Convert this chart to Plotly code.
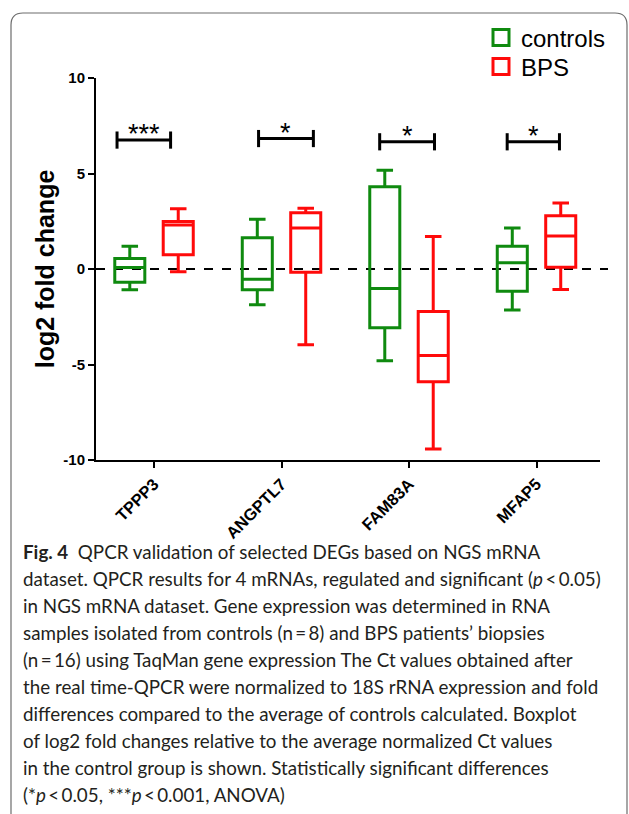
import plotly.graph_objects as go

# ---------------- data ----------------
genes = ["TPPP3", "ANGPTL7", "FAM83A", "MFAP5"]

ctrl_low = [-1.09, -1.87, -4.80, -2.15]
ctrl_q1 = [-0.69, -1.09, -3.08, -1.16]
ctrl_med = [0.08, -0.54, -1.02, 0.33]
ctrl_q3 = [0.55, 1.63, 4.31, 1.19]
ctrl_high = [1.19, 2.61, 5.17, 2.15]

bps_low = [-0.14, -3.96, -9.43, -1.07]
bps_q1 = [0.74, -0.17, -5.90, 0.09]
bps_med = [2.30, 2.15, -4.53, 1.73]
bps_q3 = [2.49, 2.94, -2.22, 2.79]
bps_high = [3.15, 3.18, 1.70, 3.46]

# significance brackets (category index units) and labels
sig_x0 = [-0.29, 0.82, 1.77, 2.77]
sig_x1 = [0.13, 1.25, 2.20, 3.18]
sig_y = [6.75, 6.83, 6.66, 6.66]
sig_label = ["***", "*", "*", "*"]

y_ticks = [-10, -5, 0, 5, 10]

caption_lines = [
    "<b>Fig. 4</b>  QPCR validation of selected DEGs based on NGS mRNA",
    "dataset. QPCR results for 4 mRNAs, regulated and significant (<i>p</i>\u2009<\u20090.05)",
    "in NGS mRNA dataset. Gene expression was determined in RNA",
    "samples isolated from controls (n\u2009=\u20098) and BPS patients\u2019 biopsies",
    "(n\u2009=\u200916) using TaqMan gene expression The Ct values obtained after",
    "the real time-QPCR were normalized to 18S rRNA expression and fold",
    "differences compared to the average of controls calculated. Boxplot",
    "of log2 fold changes relative to the average normalized Ct values",
    "in the control group is shown. Statistically significant differences",
    "(*<i>p</i>\u2009<\u20090.05, ***<i>p</i>\u2009<\u20090.001, ANOVA)",
]

GREEN = "#0f8a0f"
RED = "#ff0a0a"

# ---------------- layout geometry (pixels) ----------------
W, H = 629, 814
L, R, T, B = 96, 29, 78, 354
PW = W - L - R
PH = H - T - B


def px_x(px):
    return (px - L) / PW


def px_y(py):
    return (H - B - py) / PH


fig = go.Figure()

fig.add_trace(go.Box(
    x=genes, q1=ctrl_q1, median=ctrl_med, q3=ctrl_q3,
    lowerfence=ctrl_low, upperfence=ctrl_high,
    name="controls", line=dict(color=GREEN, width=3),
    fillcolor="rgba(0,0,0,0)", boxpoints=False, whiskerwidth=0.55,
    showlegend=False, hoverinfo="skip",
))
fig.add_trace(go.Box(
    x=genes, q1=bps_q1, median=bps_med, q3=bps_q3,
    lowerfence=bps_low, upperfence=bps_high,
    name="BPS", line=dict(color=RED, width=3),
    fillcolor="rgba(0,0,0,0)", boxpoints=False, whiskerwidth=0.55,
    showlegend=False, hoverinfo="skip",
))

# legend entries (each in its own legend to control spacing)
for nm, col, lg in [("controls", GREEN, "legend"), ("BPS", RED, "legend2")]:
    fig.add_trace(go.Scatter(
        x=[None], y=[None], mode="markers", name=nm, legend=lg,
        marker=dict(symbol="square-open", size=20, color=col,
                    line=dict(color=col, width=3)),
    ))

shapes = []
# dashed zero line
shapes.append(dict(type="line", xref="paper", yref="y",
                   x0=0, x1=px_x(608), y0=0, y1=0,
                   line=dict(color="black", width=2, dash="dash"),
                   layer="below"))
# significance brackets
tick_h = 0.45
for x0, x1, yy in zip(sig_x0, sig_x1, sig_y):
    shapes.append(dict(type="line", xref="x", yref="y", x0=x0, x1=x1, y0=yy, y1=yy,
                       line=dict(color="black", width=3)))
    shapes.append(dict(type="line", xref="x", yref="y", x0=x0, x1=x0,
                       y0=yy - tick_h, y1=yy + tick_h, line=dict(color="black", width=3)))
    shapes.append(dict(type="line", xref="x", yref="y", x0=x1, x1=x1,
                       y0=yy - tick_h, y1=yy + tick_h, line=dict(color="black", width=3)))

# rounded frame
fx0, fy0, fx1, fy1, rr = 11, 13, 627, 826, 12
path = (f"M {px_x(fx0)},{px_y(fy0 + rr)} "
        f"Q {px_x(fx0)},{px_y(fy0)} {px_x(fx0 + rr)},{px_y(fy0)} "
        f"L {px_x(fx1 - rr)},{px_y(fy0)} "
        f"Q {px_x(fx1)},{px_y(fy0)} {px_x(fx1)},{px_y(fy0 + rr)} "
        f"L {px_x(fx1)},{px_y(fy1 - rr)} "
        f"Q {px_x(fx1)},{px_y(fy1)} {px_x(fx1 - rr)},{px_y(fy1)} "
        f"L {px_x(fx0 + rr)},{px_y(fy1)} "
        f"Q {px_x(fx0)},{px_y(fy1)} {px_x(fx0)},{px_y(fy1 - rr)} Z")
shapes.append(dict(type="path", xref="paper", yref="paper", path=path,
                   line=dict(color="#6d6d6d", width=1.2), layer="below"))

annotations = []
for x0, x1, yy, lab in zip(sig_x0, sig_x1, sig_y, sig_label):
    annotations.append(dict(x=(x0 + x1) / 2, y=yy - 0.58, xref="x", yref="y",
                            text=lab, showarrow=False, yanchor="bottom",
                            font=dict(family="Arial, Liberation Sans", size=27, color="black")))

cap_top = 551
cap_step = 27.1
for i, line in enumerate(caption_lines):
    annotations.append(dict(x=px_x(21), y=px_y(cap_top + i * cap_step),
                            xref="paper", yref="paper", xanchor="left", yanchor="middle",
                            text=line, showarrow=False, align="left",
                            font=dict(family="Lato", size=18.8, color="#231f20")))

legend_font = dict(family="Arial, Liberation Sans", size=24, color="black")
fig.update_layout(
    width=W, height=H,
    margin=dict(l=L, r=R, t=T, b=B, autoexpand=False),
    paper_bgcolor="white", plot_bgcolor="white",
    boxmode="group", boxgap=0.24, boxgroupgap=0.38,
    shapes=shapes, annotations=annotations,
    legend=dict(x=px_x(481), y=px_y(38), xanchor="left", yanchor="middle",
                font=legend_font, bgcolor="rgba(0,0,0,0)", itemsizing="trace"),
    legend2=dict(x=px_x(481), y=px_y(67), xanchor="left", yanchor="middle",
                 font=legend_font, bgcolor="rgba(0,0,0,0)", itemsizing="trace"),
    showlegend=True,
)

fig.update_xaxes(
    type="category", categoryorder="array", categoryarray=genes,
    range=[-0.455, 3.498],
    showline=True, linecolor="black", linewidth=2,
    ticks="outside", ticklen=6, tickwidth=2, tickcolor="black",
    tickangle=-45, showgrid=False, zeroline=False,
    tickfont=dict(family="Arial, Liberation Sans", size=16.5, color="black", weight="bold"),
)
fig.update_yaxes(
    range=[-10, 10], tickvals=y_ticks, ticktext=[str(v) for v in y_ticks],
    showline=True, linecolor="black", linewidth=2,
    ticks="outside", ticklen=6, tickwidth=2, tickcolor="black",
    showgrid=False, zeroline=False,
    tickfont=dict(family="Arial, Liberation Sans", size=15, color="black", weight="bold"),
    title=dict(text="<b>log2 fold change</b>", standoff=2,
               font=dict(family="Arial, Liberation Sans", size=25, color="black")),
)

fig.write_html("out.html", post_script="document.body.style.margin='0';",
               config={"displayModeBar": False})
